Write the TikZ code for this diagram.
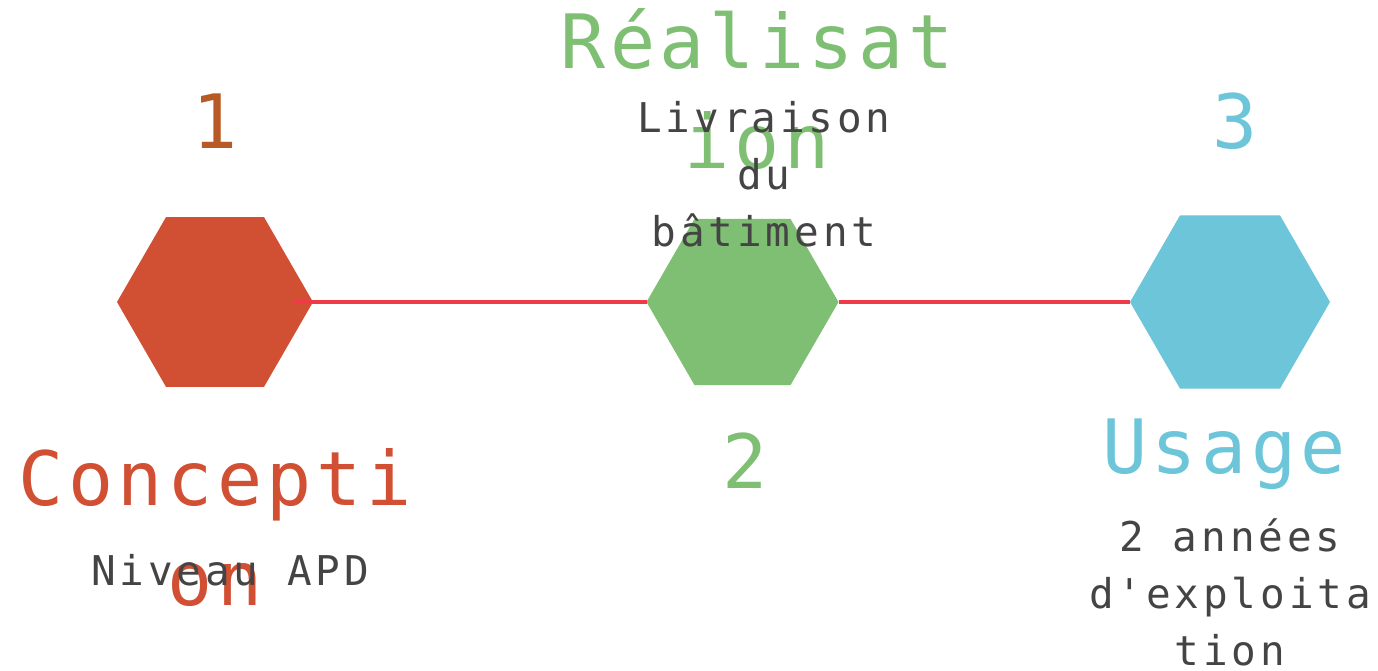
\documentclass[tikz,border=0pt]{standalone}
\usepackage{fontspec}
\usetikzlibrary{shapes.geometric}
\newfontfamily\titlefont[LetterSpace=6.0,Ligatures=TeXOff]{DejaVu Sans Mono}
\newfontfamily\bodyfont[LetterSpace=9.5,Ligatures=TeXOff]{DejaVu Sans Mono}
\definecolor{cred}{HTML}{D14F33}
\definecolor{corange}{HTML}{B85A25}
\definecolor{cgreen}{HTML}{7FBF73}
\definecolor{cblue}{HTML}{6CC5D8}
\definecolor{cline}{HTML}{EF3B47}
\definecolor{cgray}{HTML}{444444}
\tikzset{
  hexa/.style={regular polygon, regular polygon sides=6, inner sep=0pt, outer sep=0pt, draw=none},
  title/.style={font=\titlefont\fontsize{75}{100}\selectfont, align=center, inner sep=0pt, anchor=base},
  body/.style={font=\bodyfont\fontsize{41}{57}\selectfont, text=cgray, align=center, inner sep=0pt, anchor=base},
  link/.style={draw=cline, line width=3.5pt}
}
\begin{document}
\begin{tikzpicture}[x=1pt,y=-1pt]
\useasboundingbox (0,0) rectangle (1378,670);
% hexagons
\node[hexa, fill=cred, minimum size=196pt] (h1) at (215,302) {};
\coordinate (start) at (294,302);
\node[hexa, fill=cgreen, minimum size=192pt] (h2) at (742.5,302) {};
\node[hexa, fill=cblue, minimum size=200pt] (h3) at (1230,302) {};
\draw[link] (start) -- (h2.corner 3);
\draw[link] (h2.corner 6) -- (h3.corner 3);
% numbers
\node[title, text=corange] (n1) at (215,148) {1};
\node[title, text=cgreen] (n2) at (745,488) {2};
\node[title, text=cblue] (n3) at (1235,148) {3};
% titles
\node[title, text=cred] (t1) at (215,605) {Concepti\\on};
\node[title, text=cgreen] (t2) at (757,168) {Réalisat\\ion};
\node[title, text=cblue] (t3) at (1224,473) {Usage};
% descriptions
\node[body] (d1) at (230,585) {Niveau APD};
\node[body] (d2) at (764,246) {Livraison\\du\\bâtiment};
\node[body] (d3) at (1230,665) {2 années\\d'exploita\\tion};
\end{tikzpicture}
\end{document}
